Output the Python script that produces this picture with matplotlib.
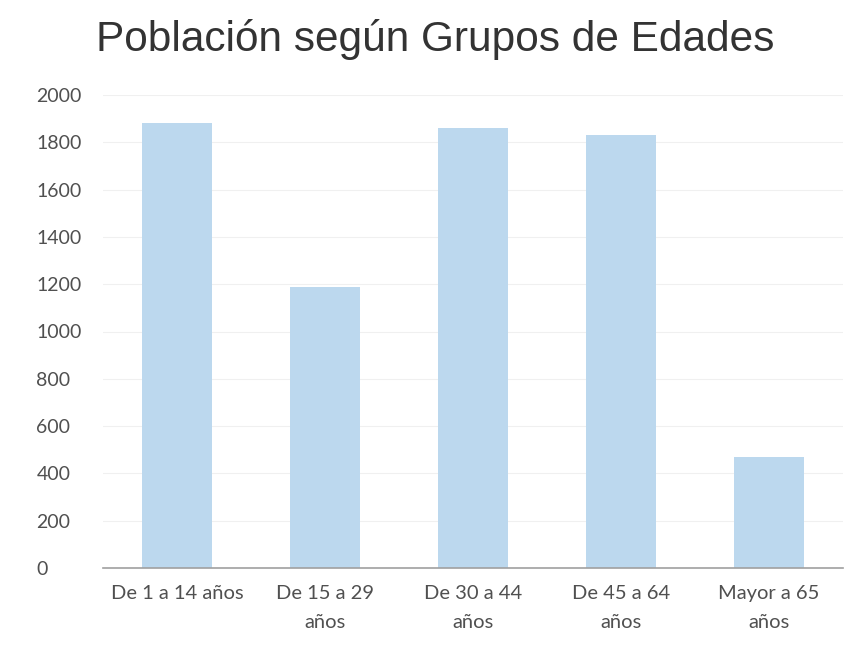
import matplotlib
matplotlib.use("Agg")
import matplotlib.pyplot as plt

categories = ["De 1 a 14 años", "De 15 a 29\naños", "De 30 a 44\naños", "De 45 a 64\naños", "Mayor a 65\naños"]
values = [1880, 1190, 1860, 1830, 470]
yticks = [0, 200, 400, 600, 800, 1000, 1200, 1400, 1600, 1800, 2000]

fig = plt.figure(figsize=(8.5, 6.58), dpi=100)
ax = fig.add_axes([103/850, 1-568/658, 740/850, (568-95)/658])

x = list(range(len(categories)))
ax.bar(x, values, width=0.47, color="#bcd8ee", zorder=2)
ax.set_xlim(-0.5, len(categories) - 0.5)
ax.set_ylim(0, 2000)
ax.set_yticks(yticks)
ax.set_xticks(x)
ax.set_xticklabels(categories, fontsize=14.5, color="#505050", family="Lato", linespacing=1.85)
for lab in ax.get_yticklabels():
    lab.set_fontsize(14)
    lab.set_color("#505050")
    lab.set_family("Lato")
ax.yaxis.grid(True, color="#f0f0f0", linewidth=0.8, zorder=0)
for s in ["top", "right", "left"]:
    ax.spines[s].set_visible(False)
ax.spines["bottom"].set_color("#a0a0a0")
ax.spines["bottom"].set_linewidth(1.2)
ax.tick_params(axis="x", length=0, pad=12)
ax.tick_params(axis="y", length=0, pad=48)
for lab in ax.get_yticklabels():
    lab.set_horizontalalignment("left")

fig.text(435/850, 1-40/658, "Población según Grupos de Edades", ha="center", va="center",
         fontsize=30.5, family="Liberation Sans", color="#333333")

fig.savefig("out.png", dpi=100, facecolor="white")
